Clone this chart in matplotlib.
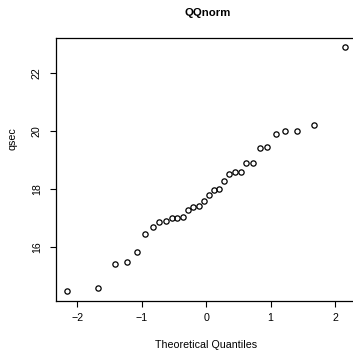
import matplotlib
matplotlib.use("Agg")
import matplotlib.pyplot as plt

plt.rcParams['font.family'] = ['Liberation Sans', 'DejaVu Sans']

# Theoretical normal quantiles (read/approximated) and sorted qsec sample values
theoretical = [-2.154, -1.676, -1.418, -1.230, -1.078, -0.947, -0.831, -0.725,
               -0.626, -0.534, -0.445, -0.360, -0.278, -0.197, -0.118, -0.039,
               0.039, 0.118, 0.197, 0.278, 0.360, 0.445, 0.534, 0.626,
               0.725, 0.831, 0.947, 1.078, 1.230, 1.418, 1.676, 2.154]
qsec = [14.50, 14.60, 15.41, 15.50, 15.84, 16.46, 16.70, 16.87,
        16.90, 17.02, 17.02, 17.05, 17.30, 17.40, 17.42, 17.60,
        17.82, 17.98, 18.00, 18.30, 18.52, 18.60, 18.61, 18.90,
        18.90, 19.44, 19.47, 19.90, 20.00, 20.01, 20.22, 22.90]
xticks = [-2, -1, 0, 1, 2]
yticks = [16, 18, 20, 22]

W, H = 353, 351
fig = plt.figure(figsize=(W / 100, H / 100), dpi=100)
left, right, top, bottom = 56.3, 356.0, 37.5, 300.5
ax = fig.add_axes([left / W, 1 - bottom / H, (right - left) / W, (bottom - top) / H])

ax.plot(theoretical, qsec, linestyle='none', marker='o', markersize=3.8,
        markerfacecolor='none', markeredgecolor='black', markeredgewidth=0.9)

xr = max(theoretical) - min(theoretical)
yr = max(qsec) - min(qsec)
ax.set_xlim(min(theoretical) - 0.04 * xr, max(theoretical) + 0.04 * xr)
ax.set_ylim(min(qsec) - 0.04 * yr, max(qsec) + 0.04 * yr)

ax.set_xticks(xticks)
ax.set_yticks(yticks)
ax.set_xticklabels([str(t).replace('-', '\u2212') for t in xticks])
ax.set_yticklabels([str(t) for t in yticks], rotation=90, va='center')
ax.tick_params(axis='both', direction='out', length=4.3, width=0.8,
               labelsize=7.7, colors='black')
ax.tick_params(axis='x', pad=4.5)
ax.tick_params(axis='y', pad=6)
for s in ax.spines.values():
    s.set_linewidth(0.9)

fig.text(208 / W, 1 - 13 / H, "QQnorm", ha='center', va='center',
         fontsize=8.2, fontweight='bold')
fig.text(206.5 / W, 1 - 345 / H, "Theoretical Quantiles", ha='center',
         va='center', fontsize=7.7)
fig.text(12 / W, 1 - 139 / H, "qsec", ha='center', va='center',
         rotation=90, fontsize=7.7)

fig.savefig("out.png", dpi=100)
